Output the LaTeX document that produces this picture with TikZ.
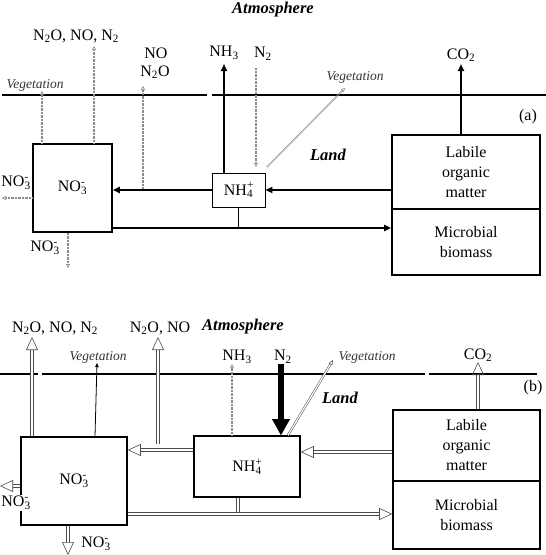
\documentclass[tikz,border=0pt]{standalone}
\usepackage{fontspec}
\setmainfont{Liberation Serif}
\usetikzlibrary{arrows.meta}
\newcommand{\nothree}{NO\rlap{\textsuperscript{-}}\textsubscript{3}}
\newcommand{\nhfour}{NH\rlap{\textsuperscript{+}}\textsubscript{4}}
\begin{document}
\begin{tikzpicture}[x=1pt,y=-1pt,
  txt/.style={font=\fontsize{16}{20}\selectfont, inner sep=0pt},
  bi/.style={font=\fontsize{16.5}{20}\selectfont\bfseries\itshape, inner sep=0pt},
  veg/.style={font=\fontsize{13.5}{16}\selectfont\itshape, text=black!80, inner sep=0pt},
  boxa/.style={draw, line width=1.6pt, inner sep=0pt, align=center, font=\fontsize{16}{20}\selectfont},
  ground/.style={line width=1.3pt},
  sarr/.style={line width=1.8pt, -{Triangle[length=7pt,width=6pt]}},
  sline/.style={line width=1.8pt},
  dotarr/.style={draw=black!45, line width=1.6pt, dash pattern=on 0.7pt off 0.7pt, -{Triangle[open,length=4pt,width=4pt,line width=0.6pt]}},
  harr/.style={draw=black!70, double=white, double distance=2.6pt, line width=0.6pt, -{Triangle[open,length=13pt,width=12pt,line width=0.6pt]}},
  hline/.style={draw=black!70, double=white, double distance=2.6pt, line width=0.6pt},
  harrthin/.style={draw=black!70, double=white, double distance=1.2pt, line width=0.5pt, -{Triangle[open,length=5pt,width=4pt,line width=0.5pt]}}
]
\path[use as bounding box] (0,0) rectangle (546,555);

% ================= panel (a) =================
\draw[ground] (2,95) -- (207,95) (212,95) -- (546,95);
\node[bi] (atma) at (273,10) {Atmosphere};
\node[bi] (landa) at (328,155) {Land};
\node[txt] (taga) at (528,117) {(a)};

\node[boxa, minimum width=79pt, minimum height=88pt] (no3a) at (72.5,188) {\nothree};
\node[draw, line width=0.8pt, inner sep=0pt, minimum width=53pt, minimum height=34pt, font=\fontsize{16}{20}\selectfont] (nh4a) at (238.5,190) {\nhfour};
\node[boxa, minimum width=148pt, minimum height=74pt] (laba) at (466,172) {Labile\\organic\\matter};
\node[boxa, minimum width=148pt, minimum height=66pt] (mica) at (466,242) {Microbial\\biomass};

\node[txt] (la1) at (76,36) {N\textsubscript{2}O, NO, N\textsubscript{2}};
\node[txt] (la2) at (156,53) {NO};
\node[txt] (la3) at (155,72) {N\textsubscript{2}O};
\node[txt] (la4) at (224,53) {NH\textsubscript{3}};
\node[txt] (la5) at (263,54) {N\textsubscript{2}};
\node[txt] (la6) at (461,55) {CO\textsubscript{2}};
\node[veg] (vega1) at (35,85) {Vegetation};
\node[veg] (vega2) at (355,77) {Vegetation};
\node[txt] (la7) at (16,183) {\nothree};
\node[txt] (la8) at (45,248) {\nothree};

\coordinate (a1) at (42,91);
\coordinate (a2) at (94,46);
\coordinate (a3) at (143,86);
\coordinate (a3b) at (143,190);
\coordinate (a4) at (224,64);
\coordinate (a5) at (256,68);
\coordinate (a5b) at (256,167);
\coordinate (a6) at (267,167);
\coordinate (a6b) at (345,88);
\coordinate (a7) at (461,64);
\coordinate (a8) at (2,198);
\coordinate (a9) at (68,268);

\draw[dotarr] (no3a.north -| a1) -- (a1);
\draw[dotarr] (no3a.north -| a2) -- (a2);
\draw[dotarr] (a3b) -- (a3);
\draw[sarr] (nh4a.north -| a4) -- (a4);
\draw[dotarr] (a5) -- (a5b);
\draw[dotarr] (a6) -- (a6b);
\draw[sarr] (laba.north -| a7) -- (a7);
\draw[dotarr] (no3a.west |- a8) -- (a8);
\draw[dotarr] (no3a.south -| a9) -- (a9);

\draw[sarr] (nh4a.west) -- (nh4a.west -| no3a.east);
\draw[sarr] (laba.west |- nh4a.east) -- (nh4a.east);
\coordinate (abot) at (0,228);
\draw[sarr] (no3a.east |- abot) -- (mica.west |- abot);
\draw[sline] (nh4a.south) -- (nh4a.south |- abot);

% ================= panel (b) =================
\draw[ground] (0,374) -- (38,374) (42,374) -- (425,374) (429,374) -- (537,374);
\node[bi] (atmb) at (243,327) {Atmosphere};
\node[bi] (landb) at (340,398) {Land};
\node[txt] (tagb) at (533,388) {(b)};

\node[boxa, minimum width=106pt, minimum height=88pt] (no3b) at (74,481) {\nothree};
\node[boxa, minimum width=106pt, minimum height=61pt] (nh4b) at (247,466.5) {\nhfour};
\node[boxa, minimum width=147pt, minimum height=71pt] (labb) at (466.5,445.5) {Labile\\organic\\matter};
\node[boxa, minimum width=147pt, minimum height=68pt] (micb) at (466.5,515) {Microbial\\biomass};

\node[txt] (lb1) at (55,328) {N\textsubscript{2}O, NO, N\textsubscript{2}};
\node[txt] (lb2) at (160,328) {N\textsubscript{2}O, NO};
\node[veg] (vegb1) at (98,357) {Vegetation};
\node[txt] (lb3) at (237,357) {NH\textsubscript{3}};
\node[txt] (lb4) at (283,357) {N\textsubscript{2}};
\node[veg] (vegb2) at (367,357) {Vegetation};
\node[txt] (lb5) at (478,355) {CO\textsubscript{2}};
\node[txt, fill=white, inner sep=1pt] (lb6) at (16,503) {\nothree};
\node[txt] (lb7) at (96,544) {\nothree};

\coordinate (b1) at (32,337);
\coordinate (b2) at (158,337);
\coordinate (b2b) at (158,444);
\coordinate (b3) at (97,363);
\coordinate (b3b) at (95,0);
\coordinate (b4) at (232,364);
\coordinate (b5) at (281,364);
\coordinate (b6) at (288,0);
\coordinate (b6b) at (333,360);
\coordinate (b7) at (478,362);
\coordinate (b8) at (0,486);
\coordinate (b9) at (68,555);
\coordinate (bh1) at (0,450);
\coordinate (bh2) at (0,452);
\coordinate (bbot) at (0,514);

\draw[harr] (no3b.north -| b1) -- (b1);
\draw[harr] (b2b) -- (b2);
\draw[line width=0.8pt, -{Triangle[length=4pt,width=3.5pt]}] (no3b.north -| b3b) -- (b3);
\draw[dotarr] (nh4b.north -| b4) -- (b4);
\draw[line width=6pt, -{Triangle[length=16pt,width=18pt,line width=0pt]}] (b5) -- (b5 |- nh4b.north);
\draw[harrthin] (nh4b.north -| b6) -- (b6b);
\draw[harr] (labb.north -| b7) -- (b7);
\draw[harr] (no3b.west |- b8) -- (b8);
\draw[harr] (no3b.south -| b9) -- (b9);

\draw[harr] (nh4b.west |- bh1) -- (no3b.east |- bh1);
\draw[harr] (labb.west |- bh2) -- (nh4b.east |- bh2);
\draw[harr] (no3b.east |- bbot) -- (micb.west |- bbot);
\draw[hline] (nh4b.south -| 238,0) -- (238,512);
\end{tikzpicture}
\end{document}
